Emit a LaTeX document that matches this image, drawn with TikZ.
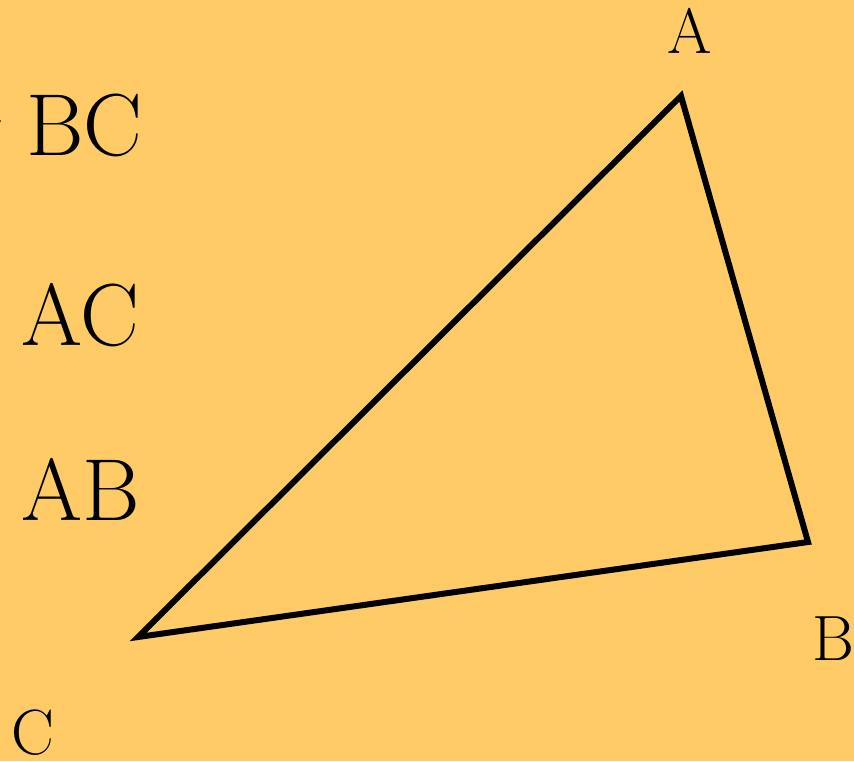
\documentclass[tikz,border=0pt]{standalone}
\usepackage{fontspec}
\definecolor{paper}{RGB}{254,203,102}
\tikzset{
  side/.style={line width=3pt, black},
  vertexlabel/.style={inner sep=0pt, font=\fontsize{32}{36}\selectfont},
  lengthlabel/.style={inner sep=0pt, anchor=base west, font=\fontsize{44}{50}\selectfont}
}
\begin{document}
\begin{tikzpicture}[x=0.5pt, y=-0.5pt]
  \fill[paper] (0,0) rectangle (854,761);
  \useasboundingbox (0,0) rectangle (854,761);

  \coordinate (A) at (681,96);
  \coordinate (B) at (808,542);
  \coordinate (C) at (138,637);
  \draw[side] (A) -- (B) -- (C) -- cycle;

  \node[vertexlabel] (la) at (690,31) {A};
  \node[vertexlabel] (lb) at (833,639) {B};
  \node[vertexlabel, anchor=base] (lc) at (33,754) {C};

  \node[lengthlabel] (bc) at (26,155) {BC};
  \node[lengthlabel] (ac) at (21,345) {AC};
  \node[lengthlabel] (ab) at (21,520) {AB};
  \node[inner sep=0pt, anchor=east, font=\fontsize{44}{50}\selectfont] (gt) at (9,122) {>};
\end{tikzpicture}
\end{document}
